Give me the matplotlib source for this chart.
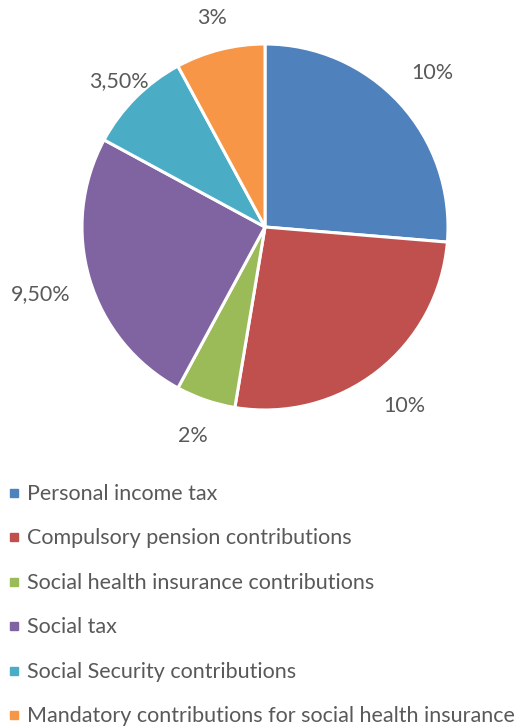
import numpy as np
import matplotlib
matplotlib.use("Agg")
import matplotlib.pyplot as plt
from matplotlib.patches import Rectangle

# contribution shares
categories = ["Personal income tax",
              "Compulsory pension contributions",
              "Social health insurance contributions",
              "Social tax",
              "Social Security contributions",
              "Mandatory contributions for social health insurance"]
values = [10, 10, 2, 9.5, 3.5, 3]
value_labels = ["10%", "10%", "2%", "9,50%", "3,50%", "3%"]
colors = ["#4F81BD", "#C0504D", "#9BBB59", "#8064A2", "#4BACC6", "#F79646"]

plt.rcParams['font.family'] = ['Lato', 'DejaVu Sans']
txt_color = "#595959"
fs = 15.5

W, H = 532, 728
fig = plt.figure(figsize=(W / 100, H / 100), dpi=100)

# pie centre (265, 227) px, radius 183 px
cx, cy, r = 265, 227, 183
box = 400
ax = fig.add_axes([(cx - box / 2) / W, (H - cy - box / 2) / H, box / W, box / H])
wedges, texts = ax.pie(values, labels=value_labels, colors=colors, startangle=90,
                       counterclock=False, labeldistance=1.22,
                       wedgeprops=dict(edgecolor="white", linewidth=2.2),
                       textprops=dict(fontsize=fs, color=txt_color))

# outside-end labels, pushed out a bit more or less per slice
label_dist = [1.24, 1.24, 1.21, 1.28, 1.13, 1.18]
for w, t, d in zip(wedges, texts, label_dist):
    a = np.deg2rad((w.theta1 + w.theta2) / 2)
    t.set_position((d * np.cos(a), d * np.sin(a)))
    t.set_ha("center")
    t.set_va("center")

lim = box / 2 / r
ax.set_xlim(-lim, lim)
ax.set_ylim(-lim, lim)
ax.set_aspect("equal")
ax.axis("off")

# legend rows (baselines in px from top)
y0, step = 500, 44.4
for i, (name, c) in enumerate(zip(categories, colors)):
    y = y0 + i * step
    fig.patches.append(Rectangle((10 / W, (H - y + 3) / H), 8 / W, 8 / H,
                                 transform=fig.transFigure, color=c))
    fig.text(27 / W, (H - y) / H, name, fontsize=fs, color=txt_color,
             ha="left", va="baseline")

fig.savefig("out.png", dpi=100)
